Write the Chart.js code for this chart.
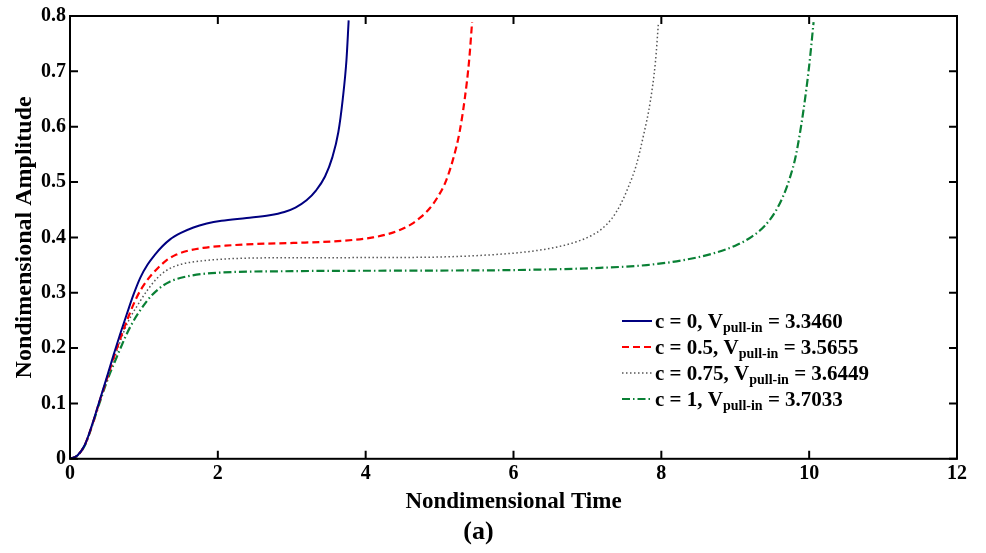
<!DOCTYPE html>
<html>
<head>
<meta charset="utf-8">
<script src="https://cdn.jsdelivr.net/npm/chart.js@4.4.1/dist/chart.umd.min.js"></script>
<style>
  html, body { margin: 0; padding: 0; background: #fff; }
  #wrap { width: 986px; height: 553px; position: relative; }
</style>
</head>
<body>
<div id="wrap"><canvas id="pullin"></canvas></div>
<script>
// values
const tC0 = [0, 0.1, 0.2, 0.3, 0.4, 0.5, 0.59, 0.68, 0.77, 0.86, 0.95, 1.05, 1.15, 1.25, 1.35, 1.5, 1.67, 1.85, 2.05, 2.39, 2.7, 2.9, 3.05, 3.2, 3.33, 3.45, 3.55, 3.63, 3.69, 3.74, 3.77];
const aC0 = [0, 0.006, 0.025, 0.062, 0.105, 0.148, 0.188, 0.226, 0.262, 0.297, 0.327, 0.351, 0.369, 0.384, 0.396, 0.408, 0.418, 0.425, 0.43, 0.435, 0.44, 0.446, 0.454, 0.467, 0.485, 0.51, 0.545, 0.59, 0.65, 0.72, 0.792];

const tC05 = [0, 0.1, 0.2, 0.3, 0.4, 0.5, 0.6, 0.72, 0.9, 1.03, 1.17, 1.3, 1.44, 1.6, 1.8, 2.1, 2.5, 3.02, 3.7, 4.1, 4.3, 4.47, 4.62, 4.75, 4.87, 4.97, 5.08, 5.18, 5.27, 5.34, 5.4, 5.44];
const aC05 = [0, 0.006, 0.025, 0.061, 0.104, 0.145, 0.186, 0.232, 0.291, 0.32, 0.342, 0.358, 0.369, 0.376, 0.381, 0.385, 0.388, 0.39, 0.394, 0.4, 0.406, 0.414, 0.424, 0.437, 0.453, 0.472, 0.5, 0.54, 0.59, 0.65, 0.72, 0.789];

const tC075 = [0, 0.1, 0.2, 0.3, 0.4, 0.5, 0.6, 0.77, 0.95, 1.06, 1.17, 1.3, 1.49, 1.75, 2.1, 2.6, 4.74, 5.86, 6.3, 6.6, 6.85, 7.05, 7.2, 7.33, 7.45, 7.56, 7.66, 7.76, 7.85, 7.92, 7.96];
const aC075 = [0, 0.006, 0.025, 0.061, 0.103, 0.143, 0.182, 0.243, 0.285, 0.307, 0.325, 0.34, 0.351, 0.357, 0.361, 0.363, 0.364, 0.37, 0.376, 0.383, 0.392, 0.403, 0.416, 0.434, 0.46, 0.493, 0.53, 0.585, 0.645, 0.717, 0.786];

const tC1 = [0, 0.1, 0.2, 0.3, 0.4, 0.5, 0.63, 0.81, 1.04, 1.2, 1.35, 1.6, 1.98, 3, 4.74, 6, 7.17, 7.8, 8.3, 8.7, 9.0, 9.22, 9.4, 9.54, 9.65, 9.74, 9.82, 9.92, 10.0, 10.06];
const aC1 = [0, 0.006, 0.024, 0.06, 0.101, 0.14, 0.183, 0.237, 0.285, 0.307, 0.32, 0.33, 0.336, 0.339, 0.34, 0.341, 0.345, 0.35, 0.359, 0.371, 0.385, 0.401, 0.421, 0.446, 0.475, 0.508, 0.548, 0.627, 0.71, 0.789];

const legendC = ['0', '0.5', '0.75', '1'];
const legendV = ['3.3460', '3.5655', '3.6449', '3.7033'];

const FONT = "'Liberation Serif', 'Times New Roman', serif";

const pts = (t, a) => t.map((x, i) => ({ x: x, y: a[i] }));

const series = [
  { data: pts(tC0, aC0), color: '#000080', dash: [], width: 2 },
  { data: pts(tC05, aC05), color: '#ff0000', dash: [7, 4], width: 2.2 },
  { data: pts(tC075, aC075), color: '#555555', dash: [1.5, 2.5], width: 1.5 },
  { data: pts(tC1, aC1), color: '#0a8035', dash: [8, 3, 1.5, 3], width: 2.2 }
];

// frame, inward ticks and the legend with subscripts
const framePlugin = {
  id: 'frame',
  afterDraw(chart) {
    const ctx = chart.ctx;
    const a = chart.chartArea;
    const xs = chart.scales.x, ys = chart.scales.y;
    ctx.save();
    ctx.strokeStyle = '#000';
    ctx.lineWidth = 2;
    ctx.strokeRect(a.left, a.top, a.right - a.left, a.bottom - a.top);
    const tl = 8;
    ctx.beginPath();
    xs.ticks.forEach(t => {
      const px = xs.getPixelForValue(t.value);
      ctx.moveTo(px, a.bottom); ctx.lineTo(px, a.bottom - tl);
      ctx.moveTo(px, a.top); ctx.lineTo(px, a.top + tl);
    });
    ys.ticks.forEach(t => {
      const py = ys.getPixelForValue(t.value);
      ctx.moveTo(a.left, py); ctx.lineTo(a.left + tl, py);
      ctx.moveTo(a.right, py); ctx.lineTo(a.right - tl, py);
    });
    ctx.stroke();

    // legend
    const lx0 = 622, lx1 = 652, tx = 655;
    const rows = [321, 347, 373, 399];
    series.forEach((s, i) => {
      const y = rows[i];
      ctx.strokeStyle = s.color;
      ctx.lineWidth = s.width;
      ctx.setLineDash(s.dash);
      ctx.beginPath();
      ctx.moveTo(lx0, y); ctx.lineTo(lx1, y);
      ctx.stroke();
      ctx.setLineDash([]);
      ctx.fillStyle = '#000';
      ctx.textBaseline = 'alphabetic';
      ctx.textAlign = 'left';
      let x = tx;
      const base = y + 7;
      ctx.font = 'bold 21px ' + FONT;
      const s1 = 'c = ' + legendC[i] + ', V';
      ctx.fillText(s1, x, base);
      x += ctx.measureText(s1).width;
      ctx.font = 'bold 14px ' + FONT;
      ctx.fillText('pull-in', x, base + 4);
      x += ctx.measureText('pull-in').width;
      ctx.font = 'bold 21px ' + FONT;
      ctx.fillText(' = ' + legendV[i], x, base);
    });
    ctx.restore();
  }
};

new Chart(document.getElementById('pullin'), {
  type: 'line',
  data: {
    datasets: series.map(s => ({
      data: s.data,
      borderColor: s.color,
      borderDash: s.dash,
      borderWidth: s.width,
      pointRadius: 0,
      fill: false,
      tension: 0.4,
      cubicInterpolationMode: 'monotone'
    }))
  },
  options: {
    responsive: true,
    maintainAspectRatio: false,
    animation: false,
    layout: { padding: { top: 14, right: 29, left: 0, bottom: 0 } },
    plugins: {
      legend: { display: false },
      tooltip: { enabled: false },
      title: {
        display: true,
        position: 'bottom',
        text: '(a)',
        color: '#000',
        font: { family: FONT, size: 26, weight: 'bold', lineHeight: 1.2 },
        padding: { top: 0, bottom: 5 }
      }
    },
    scales: {
      x: {
        type: 'linear',
        min: 0, max: 12,
        ticks: { stepSize: 2, color: '#000', padding: 3, maxRotation: 0,
                 font: { family: FONT, size: 20, weight: 'bold' } },
        grid: { display: false, drawTicks: false },
        border: { display: false },
        title: { display: true, text: 'Nondimensional Time', color: '#000',
                 font: { family: FONT, size: 23, weight: 'bold', lineHeight: 1.2 },
                 padding: { top: 0, bottom: 1 } },
        afterFit(s) { s.height = 58; }
      },
      y: {
        type: 'linear',
        min: 0, max: 0.8,
        ticks: { stepSize: 0.1, color: '#000', padding: 4,
                 font: { family: FONT, size: 20, weight: 'bold' } },
        grid: { display: false, drawTicks: false },
        border: { display: false },
        title: { display: true, text: 'Nondimensional Amplitude', color: '#000',
                 font: { family: FONT, size: 24, weight: 'bold', lineHeight: 1.2 },
                 padding: { top: 10, bottom: 0 } },
        afterFit(s) { s.width = 70; }
      }
    }
  },
  plugins: [framePlugin]
});
</script>
</body>
</html>
